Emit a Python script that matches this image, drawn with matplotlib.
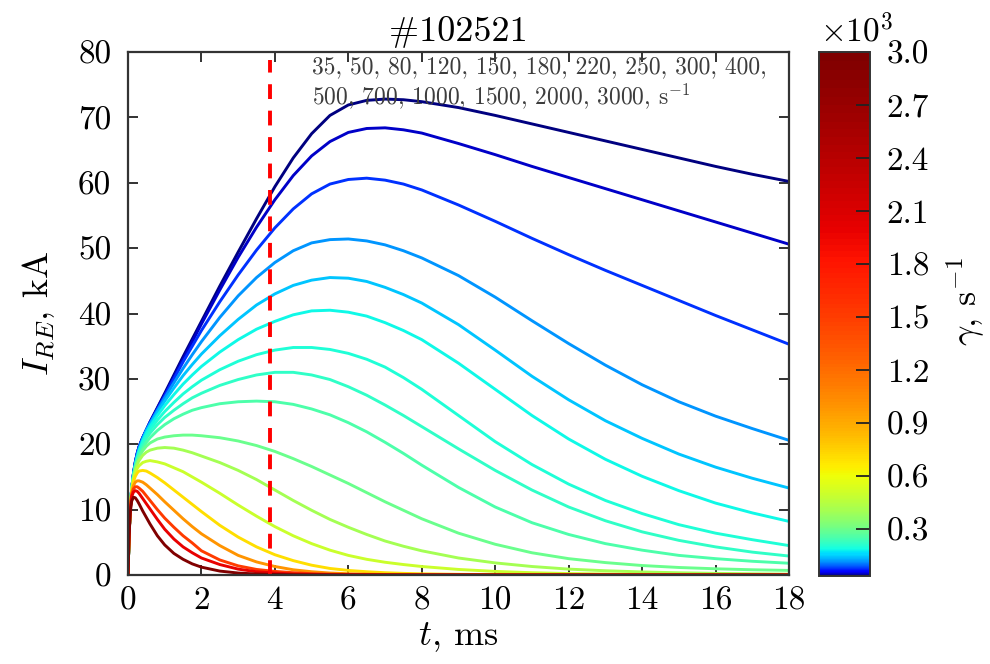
import numpy as np
import matplotlib
matplotlib.use('Agg')
import matplotlib.pyplot as plt
from matplotlib import colors as mcolors
from matplotlib.cm import ScalarMappable

plt.rcParams['font.family'] = 'serif'
plt.rcParams['font.serif'] = ['cmr10', 'DejaVu Serif']
plt.rcParams['mathtext.fontset'] = 'cm'
plt.rcParams['axes.unicode_minus'] = False

# time grid, ms
t = [0, 0.03, 0.06, 0.1, 0.15, 0.2, 0.25, 0.3, 0.4, 0.5, 0.6, 0.8, 1.0, 1.25, 1.5, 1.75, 2, 2.5, 3,
     3.5, 4, 4.5, 5, 5.5, 6, 6.5, 7, 7.5, 8, 9, 10, 11, 12, 13, 14, 15, 16, 17, 18]

# runaway current I_RE (kA) for each gamma (s^-1)
gamma = [35, 50, 80, 120, 150, 180, 200, 220, 250, 300, 400, 500, 700, 1000, 1500, 2000, 3000]

I_35 = [0, 6.2, 10.0, 13.2, 15.6, 17.3, 18.6, 19.6, 21.0, 22.2, 23.4, 25.6, 27.8, 30.6, 33.4, 36.1, 38.8, 44.2, 49.4,
        54.5, 59.4, 63.8, 67.5, 70.3, 71.9, 72.6, 72.8, 72.7, 72.4, 71.5, 70.3, 69.0, 67.7, 66.4, 65.1, 63.8, 62.5, 61.3, 60.2]
I_50 = [0, 6.2, 10.0, 13.2, 15.6, 17.3, 18.6, 19.6, 21.0, 22.2, 23.4, 25.5, 27.6, 30.3, 33.0, 35.7, 38.4, 43.6, 48.6,
        53.2, 57.4, 61.1, 64.1, 66.3, 67.7, 68.3, 68.4, 68.1, 67.6, 66.0, 64.3, 62.5, 60.8, 59.1, 57.4, 55.7, 54.0, 52.3, 50.6]
I_80 = [0, 6.2, 10.0, 13.2, 15.6, 17.3, 18.6, 19.6, 21.0, 22.2, 23.3, 25.3, 27.4, 30.0, 32.6, 35.0, 37.4, 41.8, 45.9,
        49.7, 53.1, 56.0, 58.3, 59.8, 60.5, 60.7, 60.4, 59.8, 58.9, 56.6, 54.1, 51.5, 49.0, 46.6, 44.3, 42.0, 39.7, 37.5, 35.3]
I_120 = [0, 6.2, 10.0, 13.2, 15.5, 17.1, 18.4, 19.4, 20.9, 22.2, 23.2, 25.2, 27.1, 29.4, 31.6, 33.7, 35.7, 39.4, 42.7,
         45.5, 47.8, 49.6, 50.8, 51.3, 51.4, 51.1, 50.5, 49.6, 48.5, 45.8, 42.5, 38.9, 35.4, 32.1, 29.1, 26.5, 24.3, 22.4, 20.6]
I_150 = [0, 6.2, 10.0, 13.2, 15.4, 16.9, 18.1, 19.1, 20.7, 22.0, 23.0, 24.9, 26.6, 28.6, 30.5, 32.2, 33.8, 36.6, 39.1,
         41.3, 43.0, 44.3, 45.1, 45.5, 45.4, 44.9, 44.0, 42.9, 41.6, 38.3, 34.4, 30.4, 26.8, 23.6, 20.9, 18.5, 16.5, 14.8, 13.3]
I_180 = [0, 6.2, 10.0, 13.2, 15.3, 16.8, 18.0, 19.0, 20.5, 21.7, 22.7, 24.4, 25.9, 27.6, 29.2, 30.6, 31.9, 34.1, 36.0,
         37.6, 38.8, 39.8, 40.4, 40.5, 40.2, 39.6, 38.6, 37.4, 36.0, 32.4, 28.4, 24.4, 20.8, 17.7, 15.1, 12.9, 11.0, 9.5, 8.2]
I_200 = [0, 6.2, 10.0, 13.2, 15.2, 16.7, 17.9, 18.8, 20.2, 21.3, 22.2, 23.7, 25.0, 26.4, 27.7, 28.8, 29.8, 31.4, 32.7,
         33.7, 34.4, 34.8, 34.8, 34.5, 33.9, 33.0, 31.8, 30.2, 28.4, 24.4, 20.4, 16.9, 13.9, 11.4, 9.4, 7.7, 6.4, 5.4, 4.5]
I_220 = [0, 6.2, 10.0, 13.1, 15.1, 16.6, 17.7, 18.6, 19.9, 20.9, 21.7, 23.0, 24.1, 25.2, 26.2, 27.1, 27.8, 29.0, 29.9,
         30.6, 31.0, 31.0, 30.6, 29.9, 28.8, 27.5, 26.0, 24.4, 22.7, 19.3, 16.0, 13.0, 10.4, 8.3, 6.6, 5.3, 4.3, 3.5, 2.9]
I_250 = [0, 6.2, 10.0, 13.1, 15.0, 16.4, 17.4, 18.2, 19.4, 20.3, 21.0, 22.1, 23.0, 23.9, 24.6, 25.2, 25.6, 26.2, 26.5,
         26.6, 26.5, 26.1, 25.4, 24.5, 23.3, 21.9, 20.3, 18.6, 16.8, 13.4, 10.4, 8.0, 6.2, 4.8, 3.8, 3.0, 2.5, 2.1, 1.8]
I_300 = [0, 6.2, 10.0, 13.1, 15.0, 16.3, 17.3, 18.0, 19.0, 19.7, 20.2, 20.8, 21.1, 21.3, 21.4, 21.4, 21.3, 21.0, 20.5,
         19.8, 18.9, 17.8, 16.6, 15.3, 14.0, 12.6, 11.2, 9.9, 8.6, 6.4, 4.7, 3.4, 2.5, 1.9, 1.45, 1.15, 0.95, 0.8, 0.7]
I_400 = [0, 6.2, 10.0, 13.0, 14.8, 16.0, 16.9, 17.5, 18.3, 18.8, 19.1, 19.4, 19.5, 19.4, 19.1, 18.7, 18.2, 17.2, 16.0,
         14.6, 13.0, 11.4, 9.9, 8.5, 7.3, 6.2, 5.2, 4.4, 3.7, 2.6, 1.85, 1.3, 0.9, 0.65, 0.47, 0.34, 0.25, 0.18, 0.13]
I_500 = [0, 6.2, 10.0, 12.9, 14.6, 15.6, 16.3, 16.7, 17.2, 17.4, 17.5, 17.3, 17.0, 16.4, 15.8, 15.0, 14.2, 12.5, 10.7,
         9.0, 7.4, 6.0, 4.8, 3.8, 3.0, 2.4, 1.95, 1.6, 1.3, 0.85, 0.55, 0.35, 0.22, 0.15, 0.1, 0.07, 0.05, 0.03, 0.02]
I_700 = [0, 6.2, 10.0, 12.8, 14.3, 15.1, 15.6, 15.9, 16.0, 15.9, 15.6, 14.9, 14.1, 13.0, 11.9, 10.8, 9.7, 7.6, 5.8,
         4.3, 3.1, 2.2, 1.5, 1.0, 0.7, 0.5, 0.35, 0.25, 0.18, 0.1, 0.05, 0.03, 0.02, 0.01, 0, 0, 0, 0, 0]
I_1000 = [0, 6.1, 9.9, 12.6, 13.7, 14.2, 14.4, 14.4, 14.2, 13.8, 13.3, 12.3, 11.2, 9.9, 8.6, 7.4, 6.3, 4.5, 3.0,
          2.0, 1.3, 0.8, 0.5, 0.3, 0.2, 0.13, 0.08, 0.05, 0.03, 0.01, 0, 0, 0, 0, 0, 0, 0, 0, 0]
I_1500 = [0, 6.1, 9.9, 12.3, 13.2, 13.5, 13.5, 13.3, 12.8, 12.1, 11.4, 10.0, 8.7, 7.3, 6.0, 4.9, 3.7, 2.3, 1.4,
          0.85, 0.55, 0.35, 0.2, 0.12, 0.08, 0.05, 0.03, 0.02, 0.01, 0, 0, 0, 0, 0, 0, 0, 0, 0, 0]
I_2000 = [0, 6.1, 9.8, 12.0, 12.7, 12.9, 12.8, 12.5, 11.7, 10.9, 10.1, 8.5, 7.0, 5.5, 4.3, 3.4, 2.6, 1.6, 0.9,
          0.5, 0.3, 0.15, 0.1, 0.05, 0.03, 0.02, 0.01, 0, 0, 0, 0, 0, 0, 0, 0, 0, 0, 0, 0]
I_3000 = [0, 6.0, 9.5, 11.3, 11.9, 11.8, 11.4, 10.9, 9.8, 8.8, 7.8, 6.0, 4.6, 3.3, 2.4, 1.7, 1.2, 0.6, 0.3,
          0.15, 0.08, 0.04, 0.02, 0.01, 0, 0, 0, 0, 0, 0, 0, 0, 0, 0, 0, 0, 0, 0, 0]

currents = [I_35, I_50, I_80, I_120, I_150, I_180, I_200, I_220, I_250, I_300, I_400, I_500,
            I_700, I_1000, I_1500, I_2000, I_3000]

t_dash = 3.87
gamma_text = "35, 50, 80, 120, 150, 180, 220, 250, 300, 400,\n500, 700, 1000, 1500, 2000, 3000, s$^{-1}$"

# curves coloured by jet on a log scale of gamma, colorbar drawn linear in gamma
lognorm = mcolors.LogNorm(vmin=35, vmax=3000)
g_lin = np.linspace(35, 3000, 512)
cmap = mcolors.ListedColormap(plt.cm.jet(lognorm(g_lin)))
norm = mcolors.Normalize(vmin=35, vmax=3000)

fig = plt.figure(figsize=(9.9, 6.64), dpi=100)
ax = fig.add_axes([128/990, 1-575/664, (789-128)/990, (575-52)/664])

for g, I in zip(gamma, currents):
    ax.plot(t, I, color=cmap(norm(g)), lw=2.1, solid_joinstyle='round')

ax.axvline(t_dash, ymin=0, ymax=0.985, color='red', lw=2.8, ls=(0, (3.8, 3.0)))

ax.set_xlim(0, 18)
ax.set_ylim(0, 80)
ax.set_xticks(np.arange(0, 19, 2))
ax.set_yticks(np.arange(0, 81, 10))
ax.tick_params(direction='in', top=True, right=True, length=7, width=1.3,
               labelsize=24, color='#222222', pad=8)
ax.tick_params(axis='y', pad=12)
for s in ax.spines.values():
    s.set_linewidth(1.6)
    s.set_color('#333333')

ax.set_title('#102521', fontsize=26, pad=8)
ax.set_xlabel(r'$t$, ms', fontsize=26)
ax.set_ylabel(r'$I_{RE}$, kA', fontsize=26)
ax.xaxis.set_label_coords(0.5, -0.086)
ax.yaxis.set_label_coords(-0.108, 0.5)

ax.text(5.0, 79.4, gamma_text, fontsize=17, color='#3c3c3c', va='top', ha='left',
        linespacing=1.15)

cax = fig.add_axes([819/990, 1-576/664, 51/990, (576-52)/664])
sm = ScalarMappable(norm=norm, cmap=cmap)
cb = fig.colorbar(sm, cax=cax, ticks=np.arange(300, 3001, 300))
cb.ax.set_yticklabels([f'{v/1000:.1f}' for v in np.arange(300, 3001, 300)])
cb.ax.tick_params(direction='in', length=10, width=1.3, labelsize=24, color='#222222', pad=12)
cb.outline.set_linewidth(1.4)
cb.outline.set_edgecolor('#333333')

fig.text(820/990, 1-42/664, r'$\times 10^3$', fontsize=24, ha='left', va='baseline')
fig.text(966/990, 1-302/664, r'$\gamma$, s$^{-1}$', fontsize=26, rotation=90, ha='center', va='center')

fig.savefig('out.png', dpi=100)
